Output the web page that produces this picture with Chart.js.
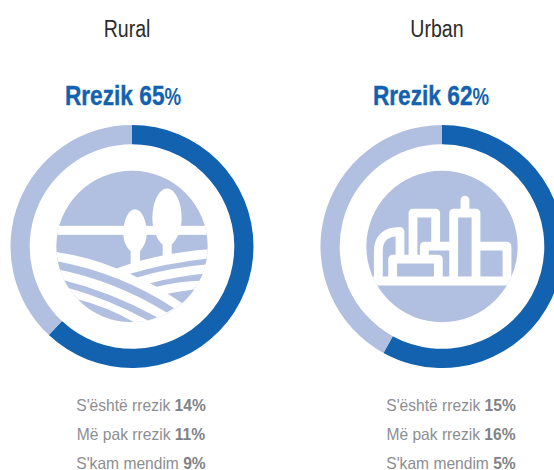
<!DOCTYPE html>
<html><head><meta charset="utf-8">
<script src="https://cdn.jsdelivr.net/npm/chart.js@4"></script>
<style>
html,body{margin:0;padding:0;background:#fff;width:554px;height:470px;overflow:hidden}
#wrap{position:relative;width:554px;height:470px;overflow:hidden;font-family:"Liberation Sans",Arial,sans-serif}
canvas{position:absolute}
.t{position:absolute;white-space:nowrap;text-align:center;width:240px;transform-origin:center}
.name{font-size:23px;line-height:26px;color:#2b2b2b;transform:scaleX(.85)}
.risk{font-size:28px;line-height:32px;font-weight:bold;color:#1262af;transform:scaleX(.81);-webkit-text-stroke:.4px #1262af}
.risk span{font-size:23px;-webkit-text-stroke:0}
.row{font-size:16.5px;line-height:20px;color:#8c8e91;transform:scaleX(.945)}
.row b{color:#808285}
</style></head><body><div id="wrap"></div>
<script>
// Arc shares as drawn in the picture (printed headline figures are kept separately).
const groups = ["Rural", "Urban"];
const headlineLabel = "Rrezik";
const headlineValues = [65, 62];
const arcRisk = [62, 58];
const arcRest = [38, 42];
const rowLabels = ["S'është rrezik", "Më pak rrezik", "S'kam mendim"];
const ruralRows = [14, 11, 9];
const urbanRows = [15, 16, 5];
const colorDark = "#1262af";
const colorLight = "#b1bfe0";
const centres = [132, 442];
const nameCentres = [127, 437];
const riskCentres = [123, 431];
const rowCentres = [140.5, 451];

function ruralIcon(c){
  c.fillStyle="#fff";
  c.fillRect(150,348,500,27);
  // trees
  c.beginPath();c.ellipse(405,370,35,72,0,Math.PI,0);c.bezierCurveTo(440,395,430,412,420,424);c.lineTo(420,470);c.lineTo(392,470);c.lineTo(392,424);c.bezierCurveTo(380,412,370,395,370,370);c.fill();
  c.beginPath();c.ellipse(501,325,44,89,0,Math.PI,0);c.bezierCurveTo(545,360,530,390,515,405);c.lineTo(515,450);c.lineTo(488,450);c.lineTo(488,405);c.bezierCurveTo(472,390,457,360,457,325);c.fill();
  // fields
  c.beginPath();c.moveTo(150,424);c.quadraticCurveTo(260,438,350,476);c.quadraticCurveTo(470,430,640,417);c.lineTo(640,650);c.lineTo(150,650);c.closePath();c.fill();
  c.fillStyle=colorLight;
  const band=(pts)=>{c.beginPath();c.moveTo(pts[0],pts[1]);for(let i=2;i<pts.length;i+=4)c.quadraticCurveTo(pts[i],pts[i+1],pts[i+2],pts[i+3]);c.closePath();c.fill();};
  band([160,452, 360,488,522,595, 511,601,500,608, 340,510,160,476]);
  band([175,507, 330,545,471,622, 458,627,444,632, 320,565,190,530]);
  band([232,568, 320,590,400,636, 300,650,232,568]);
  band([390,492, 500,458,640,444, 640,454,640,462, 510,472,412,503]);
  band([450,520, 530,500,630,490, 620,500,610,512, 530,515,470,531]);
  band([503,552, 540,545,600,536, 580,560,547,580, 525,566,503,552]);
}
function urbanIcon(c){
  c.strokeStyle="#fff";c.lineWidth=26.5;c.lineJoin="round";c.lineCap="butt";
  const s=(f)=>{c.beginPath();f();c.stroke();};
  s(()=>{c.moveTo(309,445);c.lineTo(309,310);c.lineTo(377,310);c.lineTo(377,405);});
  s(()=>{c.moveTo(431,505);c.lineTo(431,310);c.lineTo(498,310);c.lineTo(498,505);});
  c.lineCap="round";s(()=>{c.moveTo(465,271);c.lineTo(465,300);});c.lineCap="butt";
  s(()=>{c.moveTo(498,409);c.lineTo(591,409);c.lineTo(591,505);});
  s(()=>{c.moveTo(343,445);c.lineTo(343,409);c.lineTo(431,409);});
  s(()=>{c.moveTo(248,505);c.lineTo(248,448);c.lineTo(385,448);c.lineTo(385,505);});
  s(()=>{c.moveTo(205,505);c.lineTo(205,425);c.quadraticCurveTo(205,365,270,365);c.lineTo(270,445);});
  c.fillStyle="#fff";c.fillRect(150,500,490,27);
}
const iconPlugin={id:"icon",afterDraw(chart,a,opts){
  const arc=chart.getDatasetMeta(0).data[0],c=chart.ctx;
  c.save();c.translate(arc.x,arc.y);c.scale(1/3,1/3);c.translate(-396,-410);
  c.fillStyle=colorLight;c.beginPath();c.arc(396,410,227,0,Math.PI*2);c.fill();c.clip();
  (opts.kind===0?ruralIcon:urbanIcon)(c);
  c.restore();
}};
const wrap=document.getElementById("wrap");
function text(cls,html,cx,top){const d=document.createElement("div");d.className="t "+cls;d.innerHTML=html;d.style.left=(cx-120)+"px";d.style.top=top+"px";wrap.appendChild(d);}
groups.forEach((g,i)=>{
  const cx=centres[i];
  text("name",g,nameCentres[i],16);
  text("risk",headlineLabel+" "+headlineValues[i]+"<span>%</span>",riskCentres[i],80);
  const vals=i===0?ruralRows:urbanRows;
  rowLabels.forEach((l,k)=>text("row",l+" <b>"+vals[k]+"%</b>",rowCentres[i],395+k*29));
  const cv=document.createElement("canvas");
  cv.width=244;cv.height=243;cv.style.left=(cx-122)+"px";cv.style.top="125px";cv.style.width="244px";cv.style.height="243px";
  wrap.appendChild(cv);
  new Chart(cv,{type:"doughnut",
    data:{labels:["Rrezik","Tjetër"],datasets:[{data:[arcRisk[i],arcRest[i]],backgroundColor:[colorDark,colorLight],borderWidth:0,hoverOffset:0}]},
    options:{responsive:false,animation:false,cutout:"84.2%",rotation:0,circumference:360,
      layout:{padding:0},
      plugins:{legend:{display:false},tooltip:{enabled:false},icon:{kind:i}},events:[]},
    plugins:[iconPlugin]});
});
</script></body></html>
